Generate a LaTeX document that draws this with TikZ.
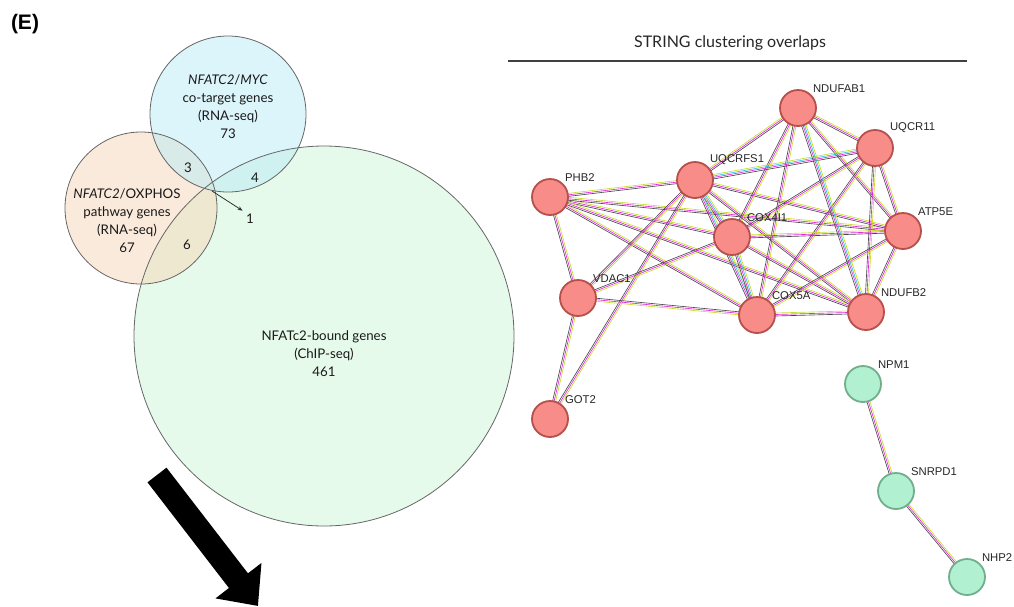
\documentclass[tikz,border=0pt]{standalone}
\usepackage{fontspec}
\setmainfont{Lato}
\newfontfamily\arialfont{Liberation Sans}
\usetikzlibrary{arrows.meta,calc,backgrounds}

\definecolor{vennblue}{HTML}{B8EBF7}
\definecolor{vennorange}{HTML}{F6D6B8}
\definecolor{venngreen}{HTML}{CDF5D8}
\definecolor{vennline}{HTML}{666666}
\definecolor{protred}{HTML}{F78C88}
\definecolor{protredline}{HTML}{B5504C}
\definecolor{protgreen}{HTML}{B2F0D2}
\definecolor{protgreenline}{HTML}{70AE8C}
\definecolor{lkgray}{HTML}{4A4A4A}
\definecolor{lkmag}{HTML}{E02ADC}
\definecolor{lkyel}{HTML}{C6DE2A}
\definecolor{lkcyan}{HTML}{2EC4E6}

% one STRING link: parallel coloured lines
\newcommand{\strlink}[3]{%
  \foreach \off/\col in {#3}
    \draw[\col, line width=0.65pt] ($(#1)!\off pt!90:(#2)$) -- ($(#2)!\off pt!-90:(#1)$);}

\tikzset{
  venntxt/.style={font=\fontsize{13.3}{18}\selectfont, align=center, text=black!90},
  prot/.style={circle, minimum size=36pt, inner sep=0pt, line width=1.8pt},
  red prot/.style={prot, fill=protred, draw=protredline},
  green prot/.style={prot, fill=protgreen, draw=protgreenline},
  lbl/.style={font=\arialfont\fontsize{11.3}{13}\selectfont, text=black!85, inner sep=1.5pt}
}

\begin{document}
\begin{tikzpicture}[x=1pt, y=-1pt]
\useasboundingbox (0,0) rectangle (1014,606);

\node[font=\arialfont\bfseries\fontsize{21}{24}\selectfont] (panel) at (25,24) {(E)};

% Venn diagram
\fill[venngreen, fill opacity=0.5] (324,336) circle (190);
\fill[vennorange, fill opacity=0.5] (141,208) circle (76);
\fill[vennblue, fill opacity=0.5] (228,114) circle (78);
\draw[vennline, line width=0.8pt] (324,336) circle (190);
\draw[vennline, line width=0.8pt] (141,208) circle (76);
\draw[vennline, line width=0.8pt] (228,114) circle (78);

\node[venntxt] (myc) at (228,107) {\textit{NFATC2}/\textit{MYC}\\co-target genes\\(RNA-seq)\\73};
\node[venntxt] (oxphos) at (127,221) {\textit{NFATC2}/OXPHOS\\pathway genes\\(RNA-seq)\\67};
\node[venntxt] (chip) at (324,354) {NFATc2-bound genes\\(ChIP-seq)\\461};
\node[venntxt] (n3) at (188,168) {3};
\node[venntxt] (n4) at (255,178) {4};
\node[venntxt] (n6) at (187,245) {6};
\node[venntxt] (n1) at (250,219) {1};
\coordinate (center3) at (212,191);
\draw[black!80, line width=0.8pt, -{Stealth[length=5pt,width=4pt]}] (center3) -- (n1.north west);

% big arrow
\coordinate (bigtail) at (157,475);
\coordinate (bigtip) at (258,606);
\draw[black, line width=24pt, -{Triangle[length=32pt,width=56pt]}] (bigtail) -- (bigtip);

% STRING network
\node[font=\fontsize{16}{18}\selectfont, text=black!85] (title) at (730,43) {STRING clustering overlaps};
\coordinate (rulel) at (508,61);
\coordinate (ruler) at (967,61);
\draw[black!75, line width=1.2pt] (rulel) -- (ruler);

\node[red prot, label={[lbl]north east:NDUFAB1}] (NDUFAB1) at (798,108) {};
\node[red prot, label={[lbl]north east:UQCR11}] (UQCR11) at (875,148) {};
\node[red prot, label={[lbl]north east:UQCRFS1}] (UQCRFS1) at (695,180) {};
\node[red prot, label={[lbl]north east:PHB2}] (PHB2) at (550,197) {};
\node[red prot, label={[lbl]north east:COX4I1}] (COX4I1) at (732,237) {};
\node[red prot, label={[lbl]north east:ATP5E}] (ATP5E) at (903,231) {};
\node[red prot, label={[lbl]north east:VDAC1}] (VDAC1) at (578,298) {};
\node[red prot, label={[lbl]north east:COX5A}] (COX5A) at (757,315) {};
\node[red prot, label={[lbl]north east:NDUFB2}] (NDUFB2) at (866,312) {};
\node[red prot, label={[lbl]north east:GOT2}] (GOT2) at (550,419) {};
\node[green prot, label={[lbl]north east:NPM1}] (NPM1) at (863,384) {};
\node[green prot, label={[lbl]north east:SNRPD1}] (SNRPD1) at (896,491) {};
\node[green prot, label={[lbl]north east:NHP2}] (NHP2) at (967,577) {};

\begin{pgfonlayer}{background}
\foreach \a/\b in {PHB2/UQCRFS1, PHB2/COX4I1, PHB2/ATP5E, PHB2/COX5A, PHB2/NDUFB2, PHB2/VDAC1,
    UQCRFS1/NDUFAB1, UQCRFS1/ATP5E, UQCRFS1/NDUFB2, UQCRFS1/VDAC1, UQCRFS1/GOT2,
    NDUFAB1/UQCR11, NDUFAB1/COX4I1, NDUFAB1/COX5A, NDUFAB1/ATP5E,
    UQCR11/COX4I1, UQCR11/COX5A, UQCR11/NDUFB2, UQCR11/ATP5E,
    COX4I1/ATP5E, COX4I1/NDUFB2, COX4I1/VDAC1,
    ATP5E/NDUFB2, ATP5E/COX5A, COX5A/NDUFB2, COX5A/VDAC1, VDAC1/GOT2,
    NPM1/SNRPD1, SNRPD1/NHP2}
  \strlink{\a}{\b}{-1.5/lkgray, 0/lkmag, 1.5/lkyel};
\foreach \a/\b in {UQCRFS1/UQCR11, UQCRFS1/COX4I1, UQCRFS1/COX5A, NDUFAB1/NDUFB2, COX4I1/COX5A}
  \strlink{\a}{\b}{-2.2/lkgray, -0.7/lkmag, 0.7/lkcyan, 2.2/lkyel};
\end{pgfonlayer}
\end{tikzpicture}
\end{document}
